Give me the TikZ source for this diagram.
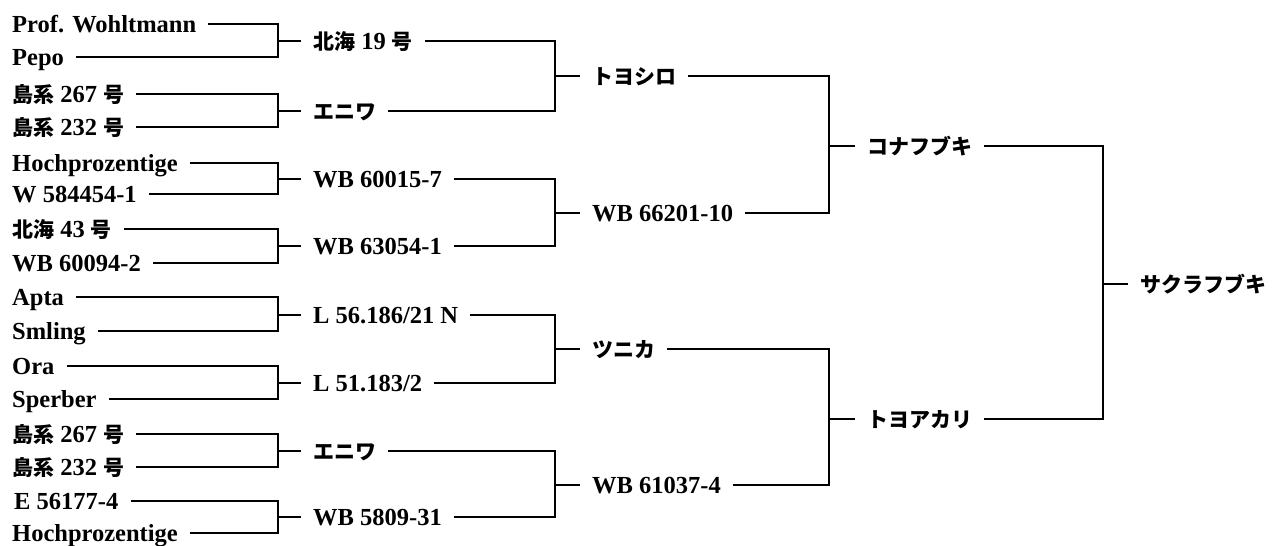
\documentclass[tikz,border=0pt]{standalone}
\usepackage{fontspec}
\setmainfont{Liberation Serif}
\newfontfamily\jpf{Noto Sans CJK JP}
\newcommand\J[1]{{\jpf\bfseries\fontsize{21}{21}\selectfont #1}}
\begin{document}
\begin{tikzpicture}[x=1pt,y=-1pt,
  lbl/.style={anchor=west, inner xsep=12pt, inner ysep=0pt, text height=17pt, text depth=0pt, font=\fontsize{24.5}{25}\selectfont\bfseries},
  link/.style={line width=1.1pt, black}]
\useasboundingbox (0,0) rectangle (1278,546);
% leaves
\node[lbl] (l1) at (0,24) {Prof. Wohltmann};
\node[lbl] (l2) at (0,57) {Pepo};
\node[lbl] (l3) at (0,94) {\J{島系} 267 \J{号}};
\node[lbl] (l4) at (0,127) {\J{島系} 232 \J{号}};
\node[lbl] (l5) at (0,163) {Hochprozentige};
\node[lbl] (l6) at (0,194) {W 584454-1};
\node[lbl] (l7) at (0,229) {\J{北海} 43 \J{号}};
\node[lbl] (l8) at (0,263) {WB 60094-2};
\node[lbl] (l9) at (0,297) {Apta};
\node[lbl] (l10) at (0,331) {Smling};
\node[lbl] (l11) at (0,366) {Ora};
\node[lbl] (l12) at (0,399) {Sperber};
\node[lbl] (l13) at (0,434) {\J{島系} 267 \J{号}};
\node[lbl] (l14) at (0,467) {\J{島系} 232 \J{号}};
\node[lbl] (l15) at (2,501) {E 56177-4};
\node[lbl] (l16) at (0,533) {Hochprozentige};
% level 2
\node[lbl] (m1) at (301,41) {\J{北海} 19 \J{号}};
\node[lbl] (m2) at (301,111) {\J{エニワ}};
\node[lbl] (m3) at (301,179) {WB 60015-7};
\node[lbl] (m4) at (301,246) {WB 63054-1};
\node[lbl] (m5) at (301,315) {L 56.186/21 N};
\node[lbl] (m6) at (301,383) {L 51.183/2};
\node[lbl] (m7) at (301,451) {\J{エニワ}};
\node[lbl] (m8) at (301,517) {WB 5809-31};
% level 3
\node[lbl] (n1) at (580,76) {\J{トヨシロ}};
\node[lbl] (n2) at (580,213) {WB 66201-10};
\node[lbl] (n3) at (580,349) {\J{ツニカ}};
\node[lbl] (n4) at (580,485) {WB 61037-4};
% level 4
\node[lbl] (p1) at (855,146) {\J{コナフブキ}};
\node[lbl] (p2) at (855,419) {\J{トヨアカリ}};
% final
\node[lbl] (q) at (1128,284) {\J{サクラフブキ}};
% bracket columns
\coordinate (c1) at (278,0);
\coordinate (c2) at (555,0);
\coordinate (c3) at (829,0);
\coordinate (c4) at (1103,0);
\foreach \a/\b/\m/\c in {l1/l2/m1/c1, l3/l4/m2/c1, l5/l6/m3/c1, l7/l8/m4/c1,
  l9/l10/m5/c1, l11/l12/m6/c1, l13/l14/m7/c1, l15/l16/m8/c1,
  m1/m2/n1/c2, m3/m4/n2/c2, m5/m6/n3/c2, m7/m8/n4/c2,
  n1/n2/p1/c3, n3/n4/p2/c3, p1/p2/q/c4} {
  \draw[link] (\a.east) -| (\m.west -| \c) |- (\b.east);
  \draw[link] (\m.west -| \c) -- (\m.west);
}
\end{tikzpicture}
\end{document}
